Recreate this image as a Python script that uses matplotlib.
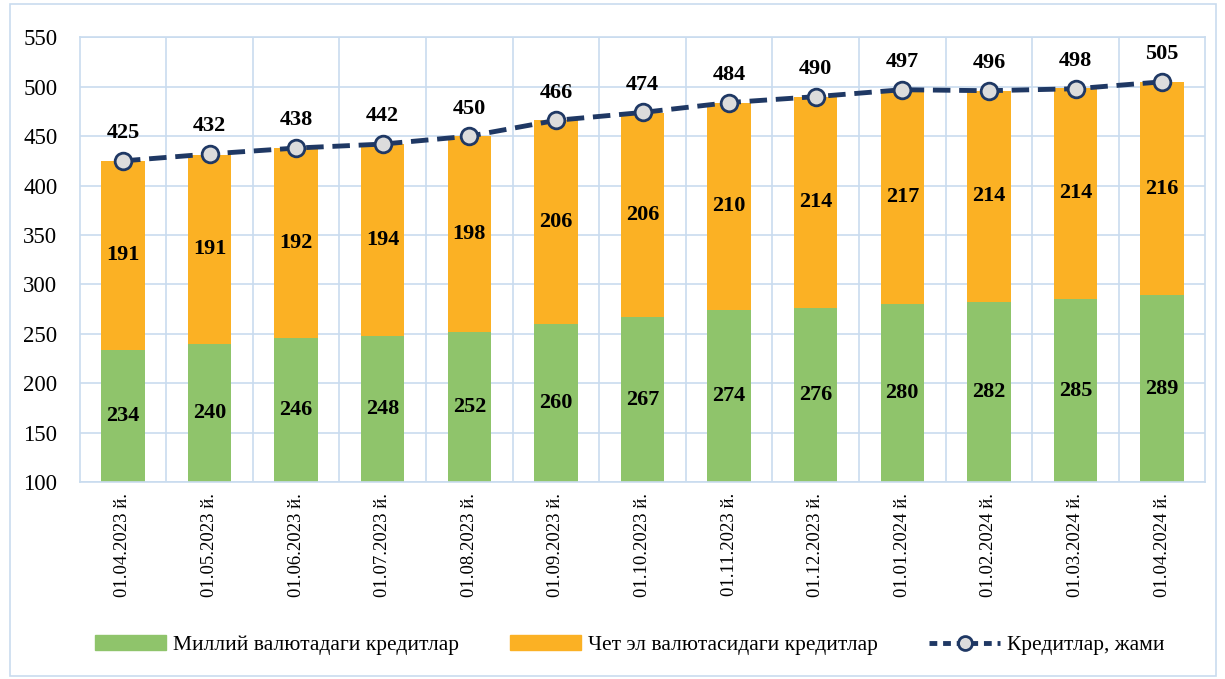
import numpy as np
import matplotlib.pyplot as plt
from matplotlib.lines import Line2D
from matplotlib.patches import Patch, Rectangle

plt.rcParams['font.family'] = ['Liberation Serif', 'DejaVu Serif']

dates = ['01.04.2023 й.', '01.05.2023 й.', '01.06.2023 й.', '01.07.2023 й.',
         '01.08.2023 й.', '01.09.2023 й.', '01.10.2023 й.', '01.11.2023 й.',
         '01.12.2023 й.', '01.01.2024 й.', '01.02.2024 й.', '01.03.2024 й.',
         '01.04.2024 й.']
national = [234, 240, 246, 248, 252, 260, 267, 274, 276, 280, 282, 285, 289]
foreign = [191, 191, 192, 194, 198, 206, 206, 210, 214, 217, 214, 214, 216]
total = [425, 432, 438, 442, 450, 466, 474, 484, 490, 497, 496, 498, 505]

green = '#8fc46b'
orange = '#fbb124'
navy = '#1f3864'
grid_c = '#c9dcef'

fig = plt.figure(figsize=(12.25, 6.79), dpi=100)
ax = fig.add_axes([0.065, 0.29, 0.919, 0.655])

x = np.arange(len(dates))
ax.bar(x, national, width=0.5, color=green, zorder=2)
ax.bar(x, foreign, width=0.5, bottom=national, color=orange, zorder=2)
ax.plot(x, total, color=navy, lw=3.5, dashes=(3.6, 1.8), marker='o', ms=12,
        mfc='#dcdcdc', mec=navy, mew=2, zorder=4)

ymin = 100
for i in range(len(x)):
    ax.text(x[i], (ymin + national[i]) / 2, str(national[i]), ha='center',
            va='center', fontsize=16, fontweight='bold', zorder=5)
    ax.text(x[i], national[i] + foreign[i] / 2, str(foreign[i]), ha='center',
            va='center', fontsize=16, fontweight='bold', zorder=5)
    ax.text(x[i], total[i] + 28, str(total[i]), ha='center', va='center',
            fontsize=16, fontweight='bold', zorder=5)

ax.set_xlim(-0.5, len(x) - 0.5)
ax.set_ylim(100, 550)
ax.set_yticks(np.arange(100, 551, 50))
ax.set_xticks(x)
ax.set_xticklabels(dates, rotation=90, fontsize=13.5)
ax.tick_params(axis='y', labelsize=16.5, length=0, pad=16)
ax.tick_params(axis='x', length=0, pad=8)

# horizontal grid plus separators between the categories
ax.grid(axis='y', color=grid_c, lw=1.2, zorder=0)
for b in np.arange(0.5, len(x) - 0.5, 1):
    ax.axvline(b, color=grid_c, lw=1.2, zorder=0)
for s in ax.spines.values():
    s.set_color(grid_c)
    s.set_linewidth(1.2)

handles = [Patch(color=green), Patch(color=orange),
           Line2D([0], [0], color=navy, lw=3.5, dashes=(1.6, 1.2), marker='o',
                  ms=10, mfc='#dcdcdc', mec=navy, mew=2)]
labels = ['Миллий валютадаги кредитлар', 'Чет эл валютасидаги кредитлар',
          'Кредитлар, жами']
fig.legend(handles, labels, loc='center', bbox_to_anchor=(0.514, 0.05),
           ncol=3, frameon=False, fontsize=15.5, handlelength=3.3,
           handleheight=0.7, columnspacing=2.4, handletextpad=0.3)

fig.add_artist(Rectangle((0.008, 0.004), 0.985, 0.99, transform=fig.transFigure,
                         fill=False, edgecolor=grid_c, lw=1.2))

fig.savefig('out.png', dpi=100)
